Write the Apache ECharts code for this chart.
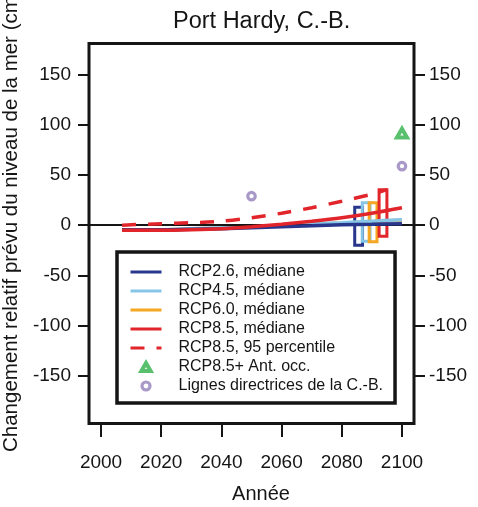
<!DOCTYPE html>
<html>
<head>
<meta charset="utf-8">
<script src="https://cdn.jsdelivr.net/npm/echarts@6/dist/echarts.min.js"></script>
<style>
  html, body { margin: 0; padding: 0; background: #fff; }
  #chart { width: 478px; height: 507px; }
</style>
</head>
<body>
<div id="chart"></div>
<script>
// Relative sea-level change (cm) projected for Port Hardy, B.C.
const years = [2007, 2010, 2020, 2030, 2040, 2050, 2060, 2070, 2080, 2090, 2100];
const rcp26Median = [-4.5, -4.5, -4.5, -4, -3.5, -2.5, -1.5, -0.5, 0.5, 1, 1.5];
const rcp45Median = [-4.5, -4.5, -4.5, -3.5, -2.5, -1.5, 0, 1.5, 2.5, 4, 5.5];
const rcp60Median = [-4.5, -4.5, -4.5, -3.5, -3, -2, -0.5, 1, 2, 3.5, 5];
const rcp85Median = [-5, -5, -5, -4.5, -3.5, -1.5, 1, 4, 7.5, 12, 17.5];

const p95Years = [2007, 2010, 2020, 2030, 2040, 2050, 2060, 2070, 2080, 2090, 2095];
const rcp85P95 = [0, 0.5, 1.5, 2.5, 4, 7.5, 12, 17.5, 24, 31, 35.5];

// 2100 ranges per scenario, drawn as boxes beside the curves
const rangeYears = [2085.6, 2088.1, 2090.4, 2093.7];
const rangeLow = [-20, -16, -16.5, -11];
const rangeHigh = [18, 22.5, 22.5, 35.5];

const antarcticYears = [2100];
const antarcticValues = [92];
const guidelineYears = [2050, 2100];
const guidelineValues = [29, 59];

const xTicks = [2000, 2020, 2040, 2060, 2080, 2100];
const yTicks = [-150, -100, -50, 0, 50, 100, 150];

const names = [
  'RCP2.6, médiane',
  'RCP4.5, médiane',
  'RCP6.0, médiane',
  'RCP8.5, médiane',
  'RCP8.5, 95 percentile',
  'RCP8.5+ Ant. occ.',
  'Lignes directrices de la C.-B.'
];

const FONT = '"Liberation Sans", Arial, Helvetica, sans-serif';
const INK = '#151515';
const NAVY = '#28368c';
const SKY = '#86c5e6';
const ORANGE = '#f5a623';
const RED = '#e1252b';
const GREEN = '#2fb24a';
const PURPLE = '#9280bb';
const rangeColors = [NAVY, SKY, ORANGE, RED];
const boxHalfWidth = 1.3;
const TRIANGLE = 'path://M0,-1L0.866,0.5L-0.866,0.5Z';

const triangleStyle = { color: '#fff', borderColor: GREEN, borderWidth: 4 };
const ringStyle = { color: '#fff', borderColor: PURPLE, borderWidth: 3.2 };

function pairs(xs, ys) {
  return xs.map((x, i) => [x, ys[i]]);
}

function lineSeries(name, xs, ys, color, z, dashed) {
  return {
    type: 'line',
    name: name,
    data: pairs(xs, ys),
    smooth: 0.3,
    showSymbol: false,
    symbol: 'none',
    z: z,
    lineStyle: { color: color, width: 3.5, type: dashed ? [14, 12] : 'solid', cap: 'butt' },
    itemStyle: { color: color }
  };
}

// legend entries: plain line keys for the curves, marker keys for the points
const legendData = names.map((name, i) => {
  if (i < 5) return { name: name, itemStyle: { opacity: 0 } };
  if (i === 5) return { name: name, icon: TRIANGLE, itemStyle: triangleStyle };
  return { name: name, icon: 'circle', itemStyle: ringStyle };
});

const chart = echarts.init(document.getElementById('chart'), null, { renderer: 'canvas' });

const yAxisBase = {
  type: 'value',
  min: -198,
  max: 181.5,
  axisLine: { show: false, onZero: false },
  splitLine: { show: false },
  axisTick: { show: true, length: 11, lineStyle: { color: INK, width: 2 }, customValues: yTicks },
  axisLabel: { customValues: yTicks, fontSize: 19, color: INK, fontFamily: FONT, formatter: v => String(v) }
};

chart.setOption({
  animation: false,
  backgroundColor: '#fff',
  textStyle: { fontFamily: FONT },
  title: {
    text: 'Port Hardy, C.-B.',
    left: 173,
    top: 9.5,
    padding: 0,
    textStyle: { fontSize: 23.5, fontWeight: 'normal', color: INK, fontFamily: FONT }
  },
  grid: {
    left: 89, right: 64, top: 43.5, bottom: 83.5,
    outerBoundsMode: 'none',
    containLabel: false,
    show: true, borderColor: INK, borderWidth: 3, backgroundColor: 'transparent'
  },
  legend: {
    orient: 'vertical',
    left: 117,
    top: 252,
    padding: [12, 12, 9, 12],
    itemWidth: 31,
    itemHeight: 8,
    itemGap: 3,
    borderColor: INK,
    borderWidth: 3.5,
    backgroundColor: '#fff',
    selectedMode: false,
    symbolKeepAspect: true,
    lineStyle: { width: 3 },
    textStyle: { fontSize: 16, color: INK, fontFamily: FONT, padding: [0, 0, 0, 12] },
    data: legendData
  },
  xAxis: {
    type: 'value',
    min: 1996,
    max: 2104,
    axisLine: { show: false, onZero: false },
    splitLine: { show: false },
    axisTick: { show: true, length: 13.5, lineStyle: { color: INK, width: 2 }, customValues: xTicks },
    axisLabel: { customValues: xTicks, margin: 29.5, fontSize: 19, color: INK, fontFamily: FONT, formatter: v => String(v) },
    name: 'Année',
    nameLocation: 'middle',
    nameGap: 60.5,
    nameTextStyle: { fontSize: 20, color: INK, fontFamily: FONT, padding: [0, 0, 0, 19] }
  },
  yAxis: [
    Object.assign({}, yAxisBase, {
      position: 'left',
      axisLabel: Object.assign({}, yAxisBase.axisLabel, { margin: 18 }),
      name: 'Changement relatif prévu du niveau de la mer (cm)',
      nameLocation: 'middle',
      nameRotate: 90,
      nameGap: 60.5,
      nameTextStyle: { fontSize: 20.5, color: INK, fontFamily: FONT, padding: [0, 0, 0, 25.6] }
    }),
    Object.assign({}, yAxisBase, {
      position: 'right',
      axisLabel: Object.assign({}, yAxisBase.axisLabel, { margin: 15 })
    })
  ],
  series: [
    {
      // zero reference line
      type: 'line',
      name: 'zero',
      data: [],
      z: 1,
      markLine: {
        silent: true,
        symbol: 'none',
        label: { show: false },
        lineStyle: { color: INK, width: 2, type: 'solid' },
        data: [{ yAxis: 0 }]
      }
    },
    {
      type: 'custom',
      name: 'Plage 2100',
      z: 2,
      encode: { x: 0, y: [1, 2] },
      data: rangeYears.map((x, i) => [x, rangeLow[i], rangeHigh[i]]),
      renderItem: function (params, api) {
        const x = api.value(0);
        const lo = api.value(1);
        const hi = api.value(2);
        const a = api.coord([x - boxHalfWidth, hi]);
        const b = api.coord([x + boxHalfWidth, lo]);
        return {
          type: 'rect',
          shape: { x: a[0], y: a[1], width: b[0] - a[0], height: b[1] - a[1] },
          style: { fill: 'none', stroke: rangeColors[params.dataIndex], lineWidth: 3 }
        };
      }
    },
    lineSeries(names[2], years, rcp60Median, ORANGE, 3, false),
    lineSeries(names[1], years, rcp45Median, SKY, 4, false),
    lineSeries(names[0], years, rcp26Median, NAVY, 5, false),
    lineSeries(names[3], years, rcp85Median, RED, 6, false),
    lineSeries(names[4], p95Years, rcp85P95, RED, 6, true),
    {
      type: 'scatter',
      name: names[5],
      data: pairs(antarcticYears, antarcticValues),
      symbol: TRIANGLE,
      symbolSize: 10,
      symbolKeepAspect: true,
      z: 7,
      itemStyle: triangleStyle
    },
    {
      type: 'scatter',
      name: names[6],
      data: pairs(guidelineYears, guidelineValues),
      symbol: 'circle',
      symbolSize: 7.5,
      z: 7,
      itemStyle: ringStyle
    }
  ]
});
</script>
</body>
</html>
